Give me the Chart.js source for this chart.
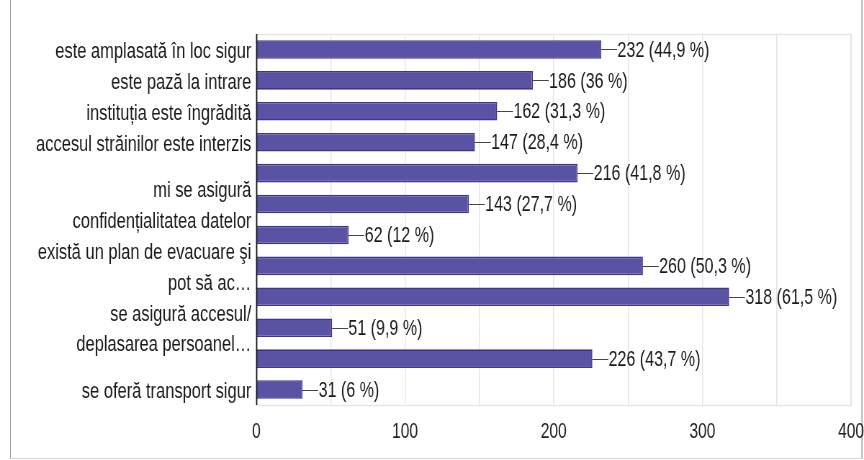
<!DOCTYPE html>
<html>
<head>
<meta charset="utf-8">
<script src="https://cdn.jsdelivr.net/npm/chart.js@4.4.1/dist/chart.umd.min.js"></script>
<style>
  html, body { margin:0; padding:0; background:#fff; overflow:hidden; }
  #frame { position:absolute; left:10px; top:-2px; width:853px; height:461px;
           border-left:1px solid #a0a0a0; border-right:2px solid #c8c8c8; border-bottom:1px solid #d8d8d8; box-sizing:border-box; }
  #wrap { position:absolute; left:0; top:0; width:1200px; height:460px; transform:scaleX(0.72); transform-origin:0 0; }
</style>
</head>
<body>
<div id="frame"></div>
<div id="wrap"><canvas id="c" width="1200" height="460"></canvas></div>
<script>
const categories = [
  "este amplasată în loc sigur",
  "este pază la intrare",
  "instituția este îngrădită",
  "accesul străinilor este interzis",
  "",
  ["mi se asigură", "confidențialitatea datelor"],
  "",
  ["există un plan de evacuare şi", "pot să ac…"],
  "",
  ["se asigură accesul/", "deplasarea persoanel…"],
  "",
  "se oferă transport sigur"
];
const counts = [232, 186, 162, 147, 216, 143, 62, 260, 318, 51, 226, 31];
const percents = ["44,9", "36", "31,3", "28,4", "41,8", "27,7", "12", "50,3", "61,5", "9,9", "43,7", "6"];
const xTicks = [0, 100, 200, 300, 400];

const FONT = "'Liberation Sans', Arial, sans-serif";

const frameLines = {
  id: 'frameLines',
  beforeDatasetsDraw(chart) {
    const a = chart.chartArea, ctx = chart.ctx;
    ctx.save();
    ctx.strokeStyle = '#e4e4e4';
    ctx.lineWidth = 1.3;
    ctx.strokeRect(a.left + 0.5, a.top + 0.5, a.right - a.left, a.bottom - a.top);
    ctx.restore();
  },
  afterDatasetsDraw(chart) {
    const a = chart.chartArea, ctx = chart.ctx;
    ctx.save();
    ctx.strokeStyle = '#111';
    ctx.lineWidth = 1.8;
    ctx.beginPath();
    ctx.moveTo(a.left + 0.5, a.top);
    ctx.lineTo(a.left + 0.5, a.bottom);
    ctx.stroke();
    const meta = chart.getDatasetMeta(0);
    ctx.font = "22.3px " + FONT;
    ctx.textBaseline = 'middle';
    ctx.textAlign = 'left';
    ctx.lineWidth = 1;
    meta.data.forEach((bar, i) => {
      const x = bar.x, y = Math.round(bar.y) + 0.5;
      ctx.strokeStyle = '#444';
      ctx.beginPath();
      ctx.moveTo(x, y);
      ctx.lineTo(x + 22, y);
      ctx.stroke();
      ctx.fillStyle = '#1a1a1a';
      ctx.fillText(counts[i] + " (" + percents[i] + " %)", x + 22.5, bar.y + 1);
    });
    ctx.restore();
  }
};

new Chart(document.getElementById('c'), {
  type: 'bar',
  data: {
    labels: categories,
    datasets: [{
      data: counts,
      backgroundColor: '#5a52a3',
      borderColor: '#3d3590',
      borderWidth: 1.6,
      borderSkipped: 'left',
      barPercentage: 0.6,
      categoryPercentage: 1.0
    }]
  },
  options: {
    indexAxis: 'y',
    responsive: false,
    animation: false,
    devicePixelRatio: 1,
    layout: { padding: { left: 0, top: 34, right: 0, bottom: 0 } },
    plugins: { legend: { display: false }, tooltip: { enabled: false } },
    scales: {
      x: {
        min: 0, max: 400,
        afterBuildTicks(axis) { axis.ticks = []; for (let v = 0; v <= 400; v += 50) axis.ticks.push({ value: v }); },
        afterFit(axis) { axis.height = 55; axis.paddingRight = 18; axis.paddingLeft = 0; },
        grid: { color: '#e4e4e4', lineWidth: 1.4, drawTicks: false },
        border: { display: false },
        ticks: {
          padding: 14,
          color: '#222',
          font: { family: FONT, size: 21.7 },
          maxRotation: 0,
          autoSkip: false,
          callback(v) { return xTicks.includes(v) ? String(v) : ''; }
        }
      },
      y: {
        afterFit(axis) { axis.width = 356; },
        grid: { display: false, drawTicks: false },
        border: { display: false },
        ticks: {
          padding: 7,
          labelOffset: 2,
          color: '#1a1a1a',
          autoSkip: false,
          font: { family: FONT, size: 22.9, lineHeight: 1.35 }
        }
      }
    }
  },
  plugins: [frameLines]
});
</script>
</body>
</html>
